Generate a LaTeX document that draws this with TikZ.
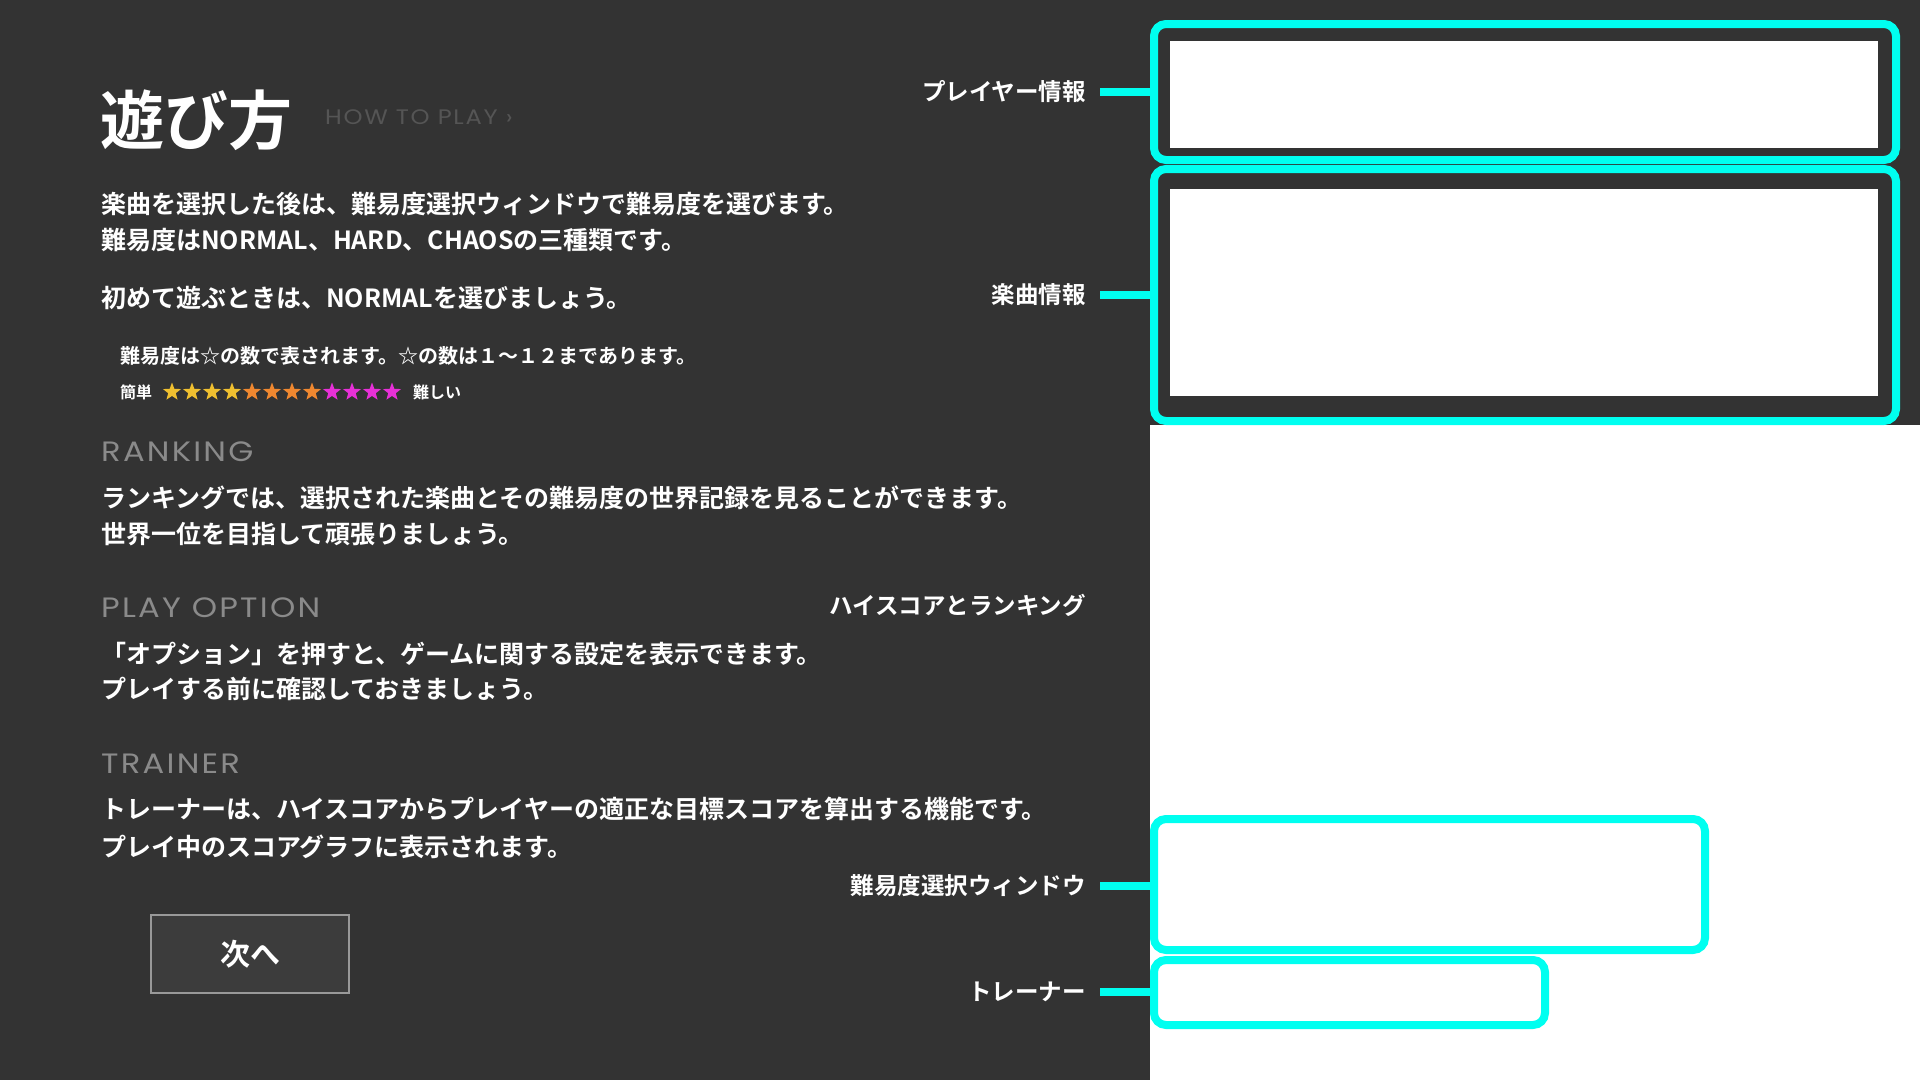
\documentclass[tikz,border=0pt]{standalone}
\usepackage{fontspec}
\setmainfont{Noto Sans CJK JP}[BoldFont={Noto Sans CJK JP Bold}]
\newfontfamily\headfont{Poppins}[FakeStretch=1.15, LetterSpace=8]
\usepackage{xcolor}
\usepackage{tikz}
\usetikzlibrary{positioning}
\usetikzlibrary{shapes.geometric}

\definecolor{bg}{HTML}{333333}
\definecolor{hl}{HTML}{00FFF0}
\definecolor{headgray}{HTML}{8A8A8A}
\definecolor{subgray}{HTML}{555555}
\definecolor{btnline}{HTML}{999999}
\definecolor{btnfill}{HTML}{3C3C3C}
\definecolor{sy}{HTML}{F0C030}
\definecolor{so}{HTML}{F08830}
\definecolor{sm}{HTML}{E830D8}

\tikzset{
  body/.style={anchor=base west, inner sep=0, text=white, font=\bfseries\fontsize{25}{30}\selectfont},
  note/.style={body, font=\bfseries\fontsize{20}{24}\selectfont},
  scale label/.style={body, font=\bfseries\fontsize{16}{19}\selectfont},
  head/.style={anchor=base west, inner sep=0, text=headgray, font=\headfont\fontsize{28}{32}\selectfont},
  tag/.style={anchor=east, inner sep=0, text=white, font=\bfseries\fontsize{23.5}{28}\selectfont},
  frame/.style={draw=hl, line width=8pt, rounded corners=12pt, outer sep=0, inner sep=0},
  lead/.style={draw=hl, line width=8pt},
  btn/.style={draw=btnline, fill=btnfill, line width=1.5pt, text=white, minimum width=198pt, minimum height=78pt, font=\bfseries\fontsize{30}{34}\selectfont},
}

\begin{document}
\begin{tikzpicture}[x=1pt, y=-1pt]
\useasboundingbox (0,0) rectangle (1920,1080);
\fill[bg] (0,0) rectangle (1920,1080);
\fill[white] (1150,425) rectangle (1920,1080);

% left column
\node[anchor=base west, inner sep=0, text=white, font=\bfseries\fontsize{64}{70}\selectfont] (title) at (100,144) {遊び方};
\node[anchor=base west, inner sep=0, text=subgray, font=\headfont\fontsize{21}{24}\selectfont] (sub) at (325,124) {HOW TO PLAY ›};

\node[body] (l1) at (101,213.5) {楽曲を選択した後は、難易度選択ウィンドウで難易度を選びます。};
\node[body] (l2) at (101,249.5) {難易度はNORMAL、HARD、CHAOSの三種類です。};
\node[body] (l3) at (101,307.5) {初めて遊ぶときは、NORMALを選びましょう。};
\node[note] (n1) at (120,363) {難易度は☆の数で表されます。☆の数は１～１２まであります。};
\node[scale label] (easy) at (120,398) {簡単};
\foreach \c [count=\i from 0] in {sy,sy,sy,sy,so,so,so,so,sm,sm,sm,sm}
  \node[star, star points=5, star point ratio=2.4, fill=\c, inner sep=0, minimum size=19pt] (s\i) at (172+20*\i,392) {};
\node[scale label] (hard) at (413,398) {難しい};

\node[head] (rank) at (101,461) {RANKING};
\node[body] (r1) at (101,507.5) {ランキングでは、選択された楽曲とその難易度の世界記録を見ることができます。};
\node[body] (r2) at (101,543.5) {世界一位を目指して頑張りましょう。};

\node[head] (opt) at (101,617) {PLAY OPTION};
\node[body] (o1) at (101,663.5) {「オプション」を押すと、ゲームに関する設定を表示できます。};
\node[body] (o2) at (101,698.5) {プレイする前に確認しておきましょう。};

\node[head] (train) at (101,773) {TRAINER};
\node[body] (t1) at (101,818.5) {トレーナーは、ハイスコアからプレイヤーの適正な目標スコアを算出する機能です。};
\node[body] (t2) at (101,856.5) {プレイ中のスコアグラフに表示されます。};

\node[btn] (next) at (250,954) {次へ};

% right column
\node[frame, minimum width=742pt, minimum height=136pt] (b1) at (1525,92) {};
\node[frame, minimum width=742pt, minimum height=252pt] (b2) at (1525,295) {};
\node[frame, minimum width=551pt, minimum height=131pt] (b3) at (1429.5,884.5) {};
\node[frame, minimum width=391pt, minimum height=65pt] (b4) at (1349.5,992.5) {};
\fill[white] (1170,41) rectangle (1878,148);
\fill[white] (1170,189) rectangle (1878,396);

\node[tag] (player) at (1086,92) {プレイヤー情報};
\node[tag] (song) at (1086,295) {楽曲情報};
\node[tag] (score) at (1086,605) {ハイスコアとランキング};
\node[tag] (diff) at (1086,886) {難易度選択ウィンドウ};
\node[tag] (tr) at (1086,992) {トレーナー};

\draw[lead] ([xshift=14pt]player.east) -- (player.east -| b1.west);
\draw[lead] ([xshift=14pt]song.east) -- (song.east -| b2.west);
\draw[lead] ([xshift=14pt]diff.east) -- (diff.east -| b3.west);
\draw[lead] ([xshift=14pt]tr.east) -- (tr.east -| b4.west);
\end{tikzpicture}
\end{document}
